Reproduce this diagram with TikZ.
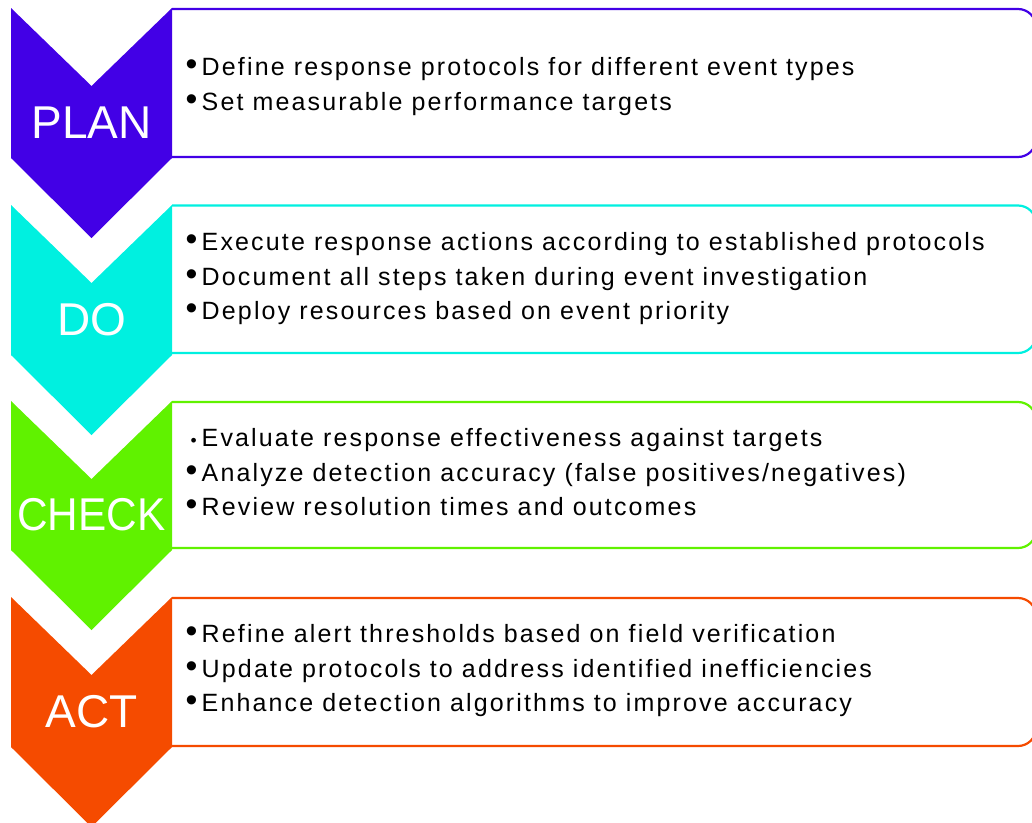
\documentclass[tikz,border=0pt]{standalone}
\usepackage{fontspec}
\setmainfont{Liberation Sans}
\newfontfamily\itemfont[LetterSpace=8.6]{Liberation Sans}
\definecolor{cplan}{RGB}{66,0,230}
\definecolor{cdo}{RGB}{0,240,224}
\definecolor{ccheck}{RGB}{96,242,0}
\definecolor{cact}{RGB}{245,75,0}
\newcommand{\bul}{\makebox[16pt][l]{\scalebox{1.35}{\textbullet}}}
\begin{document}
\begin{tikzpicture}[x=1pt,y=-1pt,
  chev/.style={fill=#1, draw=none},
  stagebox/.style={draw=#1, line width=2.2pt, fill=white, rounded corners=18pt},
  lbl/.style={text=white, inner sep=0pt, font=\fontsize{46}{46}\selectfont},
  item/.style={anchor=base west, inner sep=0pt, font=\itemfont\fontsize{25}{30}\selectfont},
]
\useasboundingbox (0,0) rectangle (1032,822);
\clip (0,0) rectangle (1032,822);

% PLAN
\path[stagebox=cplan] (172,9) -- (1036,9) -- (1036,157) -- (172,157);
\fill[chev=cplan] (11,8) -- (91.5,86) -- (172,8) -- (172,158) -- (91.5,238) -- (11,158) -- cycle;
\node[lbl] (plan) at (91.5,123) {PLAN};
\node[item] (p1) at (185.5,75) {\bul Define response protocols for different event types};
\node[item] (p2) at (185.5,110) {\bul Set measurable performance targets};

% DO
\path[stagebox=cdo] (172,205.5) -- (1036,205.5) -- (1036,353) -- (172,353);
\fill[chev=cdo] (11,205) -- (91.5,283) -- (172,205) -- (172,355) -- (91.5,435) -- (11,355) -- cycle;
\node[lbl] (do) at (91.5,320) {DO};
\node[item] (d1) at (185.5,250.5) {\bul Execute response actions according to established protocols};
\node[item] (d2) at (185.5,285) {\bul Document all steps taken during event investigation};
\node[item] (d3) at (185.5,319.5) {\bul Deploy resources based on event priority};

% CHECK
\path[stagebox=ccheck] (172,402) -- (1036,402) -- (1036,548) -- (172,548);
\fill[chev=ccheck] (11,401) -- (91.5,479) -- (172,401) -- (172,550) -- (91.5,630) -- (11,550) -- cycle;
\node[lbl] (check) at (91.5,515) {\scalebox{0.92}[1]{CHECK}};
\node[item] (c1) at (185.5,446) {\makebox[16pt][c]{\scalebox{0.7}{\textbullet}}Evaluate response effectiveness against targets};
\node[item] (c2) at (185.5,481) {\bul Analyze detection accuracy (false positives/negatives)};
\node[item] (c3) at (185.5,515.5) {\bul Review resolution times and outcomes};

% ACT
\path[stagebox=cact] (172,598) -- (1036,598) -- (1036,746) -- (172,746);
\fill[chev=cact] (11,597) -- (91.5,675) -- (172,597) -- (172,747) -- (91.5,827) -- (11,747) -- cycle;
\node[lbl] (act) at (91.5,712) {ACT};
\node[item] (a1) at (185.5,642) {\bul Refine alert thresholds based on field verification};
\node[item] (a2) at (185.5,677) {\bul Update protocols to address identified inefficiencies};
\node[item] (a3) at (185.5,711) {\bul Enhance detection algorithms to improve accuracy};
\end{tikzpicture}
\end{document}
